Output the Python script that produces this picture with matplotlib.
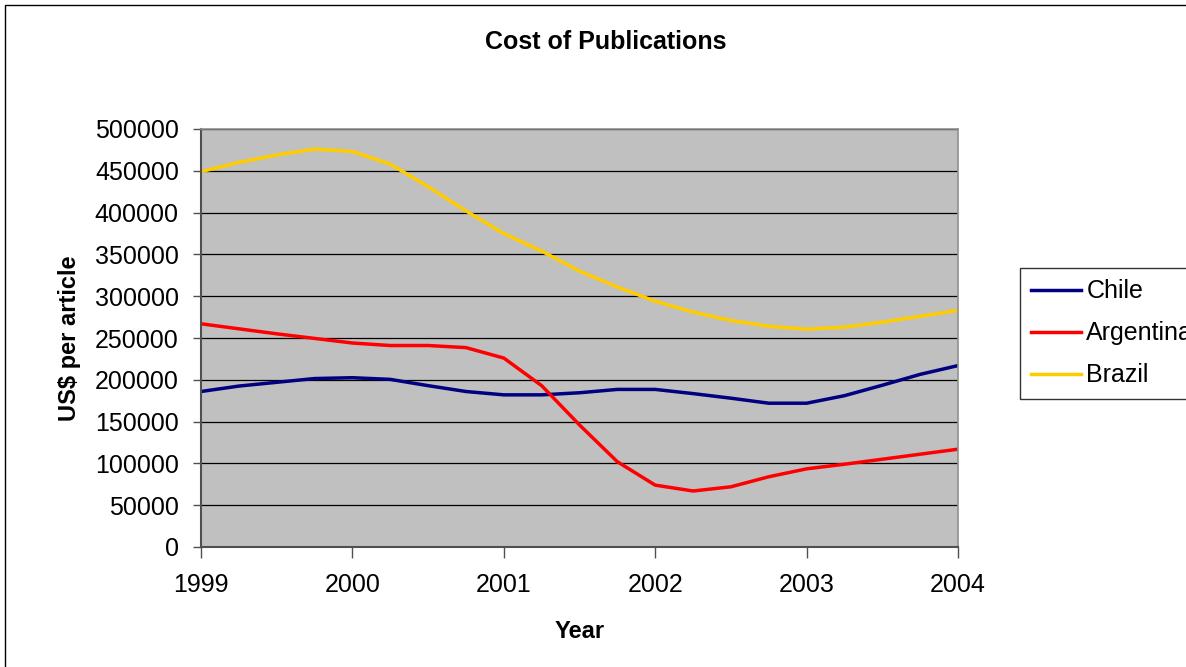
"""Cost of publications per article, 1999-2004, for Chile, Argentina and Brazil."""
import matplotlib
matplotlib.use("Agg")
import matplotlib.pyplot as plt
from matplotlib.patches import Rectangle
import numpy as np

plt.rcParams["font.family"] = ["Liberation Sans", "DejaVu Sans"]

# quarterly readings, 1999.00 .. 2004.00
years = np.arange(1999.0, 2004.01, 0.25)
chile = [186000, 192500, 197000, 201500, 202500, 200500, 193000, 186000,
         182000, 182000, 184500, 188500, 188500, 183500, 178000, 172000,
         172000, 181000, 193500, 206500, 217000]
argentina = [267000, 261000, 255000, 249500, 244000, 241000, 241000, 238500,
             226000, 193000, 146000, 102000, 74000, 67000, 72000, 84000,
             93500, 99000, 105000, 111000, 117000]
brazil = [449000, 460000, 469000, 476000, 473000, 458000, 431000, 402000,
          375000, 354000, 330000, 311000, 294000, 281000, 271000, 264000,
          260500, 263000, 269000, 276000, 283000]

series = [("Chile", chile, "#000080"),
          ("Argentina", argentina, "#FF0000"),
          ("Brazil", brazil, "#FFCC00")]
year_ticks = [1999, 2000, 2001, 2002, 2003, 2004]
value_ticks = np.arange(0, 500001, 50000)

W, H = 1186, 667
fig = plt.figure(figsize=(W / 100, H / 100), dpi=100)
ax = fig.add_axes([201 / W, 1 - 547 / H, (958 - 201) / W, (547 - 129) / H])
ax.set_facecolor("#C0C0C0")

for name, vals, col in series:
    ax.plot(years, vals, color=col, lw=2.5, label=name, solid_joinstyle="round")

ax.set_xlim(1999, 2004)
ax.set_ylim(0, 500000)
ax.set_xticks(year_ticks)
ax.set_xticklabels([str(y) for y in year_ticks])
ax.set_yticks(value_ticks)
ax.set_yticklabels([str(v) for v in value_ticks])
ax.yaxis.grid(True, color="black", lw=0.9)
ax.set_axisbelow(True)

for side in ("top", "right"):
    ax.spines[side].set_color("#909090")
    ax.spines[side].set_linewidth(1.2)
for side in ("left", "bottom"):
    ax.spines[side].set_color("#505050")
    ax.spines[side].set_linewidth(1.5)

ax.tick_params(axis="both", direction="out", color="#505050", width=1.0,
               labelsize=18)
ax.tick_params(axis="y", length=6, pad=10)
ax.tick_params(axis="x", length=8, pad=11)

fig.text(606 / W, 1 - 42 / H, "Cost of Publications", fontsize=18,
         fontweight="bold", ha="center", va="center")
ax.set_xlabel("Year", fontsize=17, fontweight="bold", labelpad=16)
ax.set_ylabel("US$ per article", fontsize=17, fontweight="bold", labelpad=10)

leg = fig.legend(loc="upper left", bbox_to_anchor=(1020 / W, 1 - 268 / H),
                 fontsize=18, frameon=True, fancybox=False, edgecolor="black",
                 handlelength=2.0, handletextpad=0.2, labelspacing=0.72,
                 borderpad=0.45, borderaxespad=0)
leg.get_frame().set_linewidth(1.0)

# chart-area border (runs off the right and bottom edges)
fig.patches.append(Rectangle((5 / W, -0.05), 1.2, 1.05 - 5 / H,
                             transform=fig.transFigure, fill=False,
                             edgecolor="black", lw=1.0))

fig.savefig("out.png", dpi=100)
